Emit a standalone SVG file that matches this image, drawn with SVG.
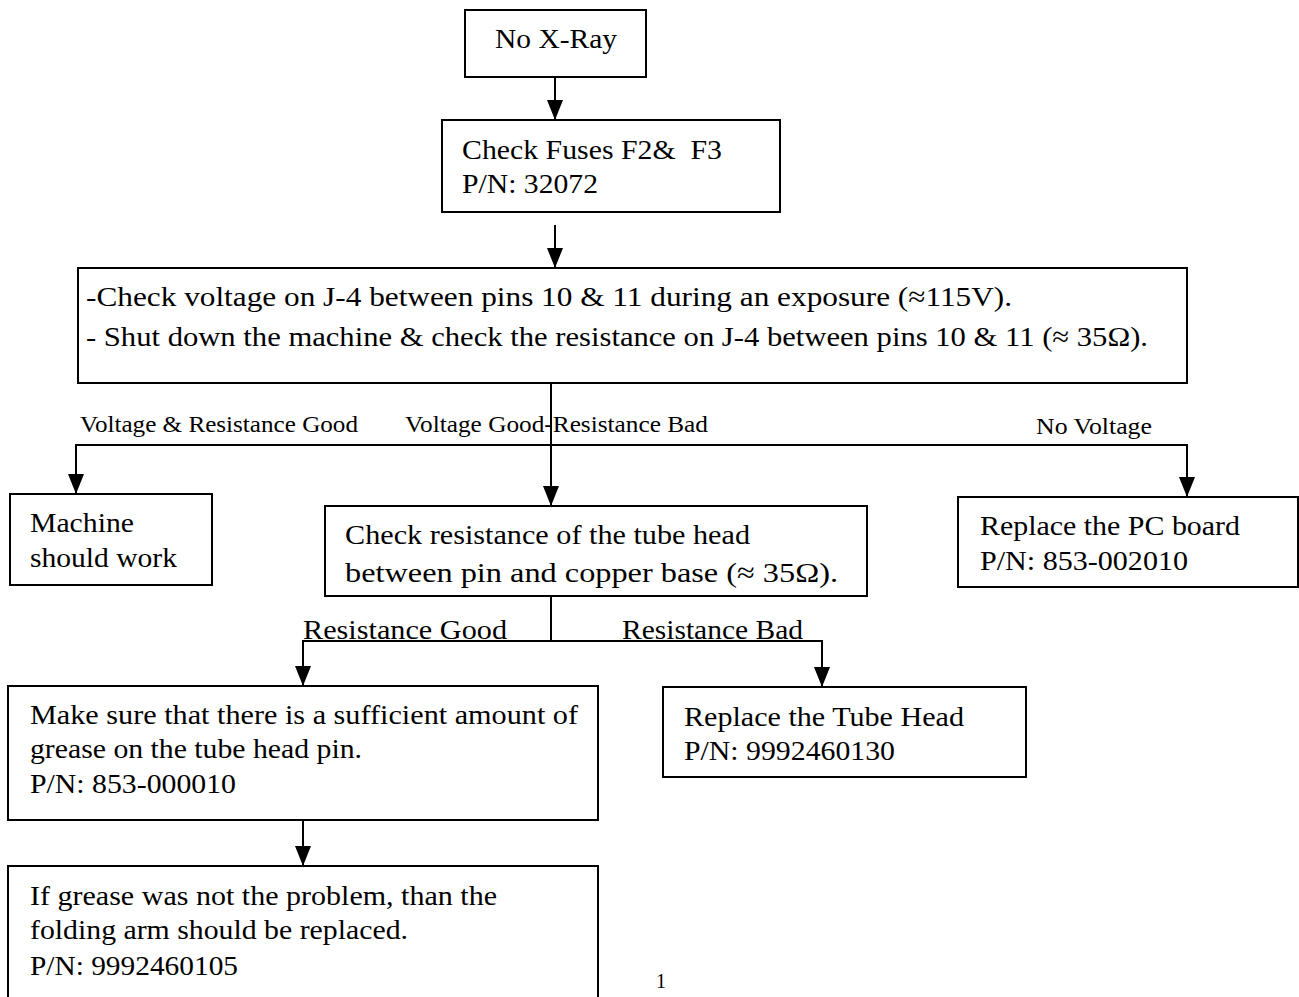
<svg xmlns="http://www.w3.org/2000/svg" width="1299" height="997" viewBox="0 0 1299 997">
<style>
.box{fill:#fff;stroke:#000;stroke-width:2}
text{font-family:"Liberation Serif","Times New Roman",serif;fill:#000}
.t{font-size:28px}
.lb{font-size:23px}
.lr{font-size:27px}
.c{fill:none;stroke:#000;stroke-width:2}
</style>
<defs>
<marker id="ar" markerUnits="userSpaceOnUse" markerWidth="20" markerHeight="16" viewBox="0 0 20 16" refX="20" refY="8" orient="auto">
<path d="M0,0 L20,8 L0,16 Z" fill="#000"/>
</marker>
</defs>
<rect width="1299" height="997" fill="#fff"/>
<g id="connectors">
<path class="c" d="M555,77 V120" marker-end="url(#ar)"/>
<path class="c" d="M555,225 V268" marker-end="url(#ar)"/>
<path class="c" d="M551,383 V506" marker-end="url(#ar)"/>
<path class="c" d="M551,445 H76 V494" marker-end="url(#ar)"/>
<path class="c" d="M551,445 H1187 V497" marker-end="url(#ar)"/>
<path class="c" d="M551,596 V641"/>
<path class="c" d="M551,641 H303 V686" marker-end="url(#ar)"/>
<path class="c" d="M551,641 H822 V687" marker-end="url(#ar)"/>
<path class="c" d="M303,820 V866" marker-end="url(#ar)"/>
<text class="lb" x="80" y="432" textLength="278" lengthAdjust="spacingAndGlyphs">Voltage &amp; Resistance Good</text>
<text class="lb" x="405" y="432" textLength="303" lengthAdjust="spacingAndGlyphs">Voltage Good-Resistance Bad</text>
<text class="lb" x="1036" y="434" textLength="116" lengthAdjust="spacingAndGlyphs">No Voltage</text>
<text class="lr" x="303" y="639" textLength="204" lengthAdjust="spacingAndGlyphs">Resistance Good</text>
<text class="lr" x="622" y="639" textLength="181" lengthAdjust="spacingAndGlyphs">Resistance Bad</text>
</g>
<g id="n1">
<rect class="box" x="465" y="10" width="181" height="67"/>
<text class="t" x="495" y="48" textLength="122" lengthAdjust="spacingAndGlyphs">No X-Ray</text>
</g>
<g id="n2">
<rect class="box" x="442" y="120" width="338" height="92"/>
<text class="t" x="462" y="159" textLength="260" lengthAdjust="spacingAndGlyphs" xml:space="preserve">Check Fuses F2&amp;  F3</text>
<text class="t" x="462" y="193" textLength="136" lengthAdjust="spacingAndGlyphs">P/N: 32072</text>
</g>
<g id="n3">
<rect class="box" x="78" y="268" width="1109" height="115"/>
<text class="t" x="86" y="306" textLength="926" lengthAdjust="spacingAndGlyphs">-Check voltage on J-4 between pins 10 &amp; 11 during an exposure (≈115V).</text>
<text class="t" x="86" y="346" textLength="1062" lengthAdjust="spacingAndGlyphs">- Shut down the machine &amp; check the resistance on J-4 between pins 10 &amp; 11 (≈ 35Ω).</text>
</g>
<g id="n4">
<rect class="box" x="10" y="494" width="202" height="91"/>
<text class="t" x="30" y="532" textLength="104" lengthAdjust="spacingAndGlyphs">Machine</text>
<text class="t" x="30" y="567" textLength="147" lengthAdjust="spacingAndGlyphs">should work</text>
</g>
<g id="n5">
<rect class="box" x="325" y="506" width="542" height="90"/>
<text class="t" x="345" y="544" textLength="405" lengthAdjust="spacingAndGlyphs">Check resistance of the tube head</text>
<text class="t" x="345" y="582" textLength="493" lengthAdjust="spacingAndGlyphs">between pin and copper base (≈ 35Ω).</text>
</g>
<g id="n6">
<rect class="box" x="958" y="497" width="340" height="90"/>
<text class="t" x="980" y="535" textLength="260" lengthAdjust="spacingAndGlyphs">Replace the PC board</text>
<text class="t" x="980" y="570" textLength="208" lengthAdjust="spacingAndGlyphs">P/N: 853-002010</text>
</g>
<g id="n7">
<rect class="box" x="8" y="686" width="590" height="134"/>
<text class="t" x="30" y="724" textLength="548" lengthAdjust="spacingAndGlyphs">Make sure that there is a sufficient amount of</text>
<text class="t" x="30" y="758" textLength="332" lengthAdjust="spacingAndGlyphs">grease on the tube head pin.</text>
<text class="t" x="30" y="793" textLength="206" lengthAdjust="spacingAndGlyphs">P/N: 853-000010</text>
</g>
<g id="n8">
<rect class="box" x="663" y="687" width="363" height="90"/>
<text class="t" x="684" y="726" textLength="280" lengthAdjust="spacingAndGlyphs">Replace the Tube Head</text>
<text class="t" x="684" y="760" textLength="211" lengthAdjust="spacingAndGlyphs">P/N: 9992460130</text>
</g>
<g id="n9">
<rect class="box" x="8" y="866" width="590" height="140"/>
<text class="t" x="30" y="905" textLength="467" lengthAdjust="spacingAndGlyphs">If grease was not the problem, than the</text>
<text class="t" x="30" y="939" textLength="378" lengthAdjust="spacingAndGlyphs">folding arm should be replaced.</text>
<text class="t" x="30" y="975" textLength="208" lengthAdjust="spacingAndGlyphs">P/N: 9992460105</text>
</g>
<text x="656" y="988" style="font-size:20px">1</text>
</svg>
